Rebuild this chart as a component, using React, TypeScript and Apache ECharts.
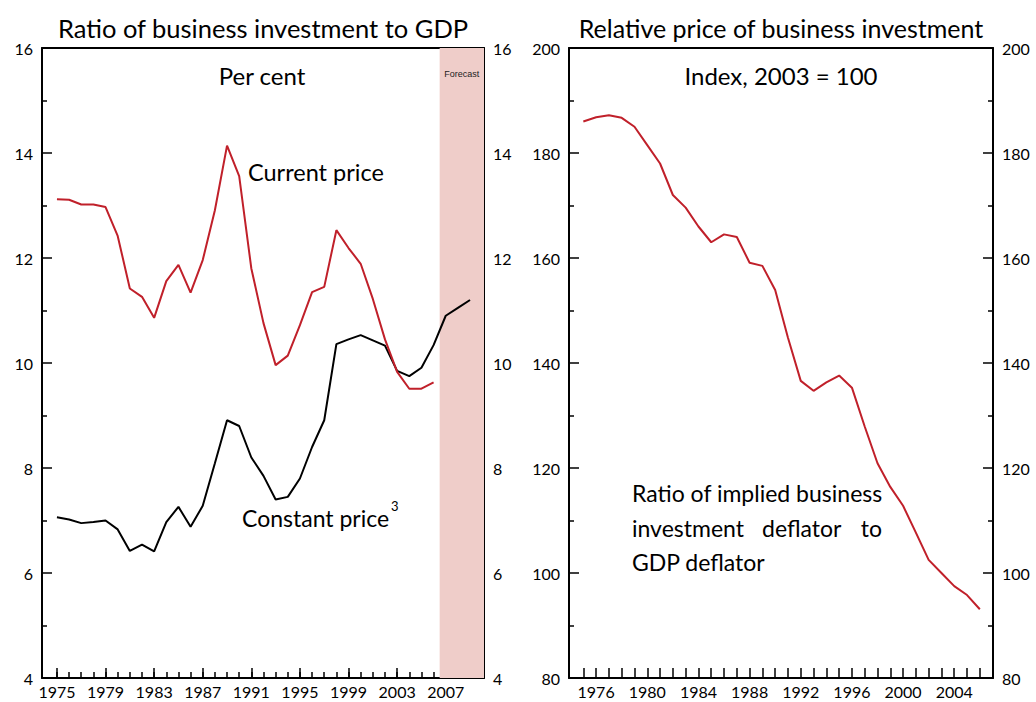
import React, { useEffect, useRef } from "react";
import * as echarts from "echarts";

// ---- Data ----
const currentYears = [1975,1976,1977,1978,1979,1980,1981,1982,1983,1984,1985,1986,1987,1988,1989,1990,1991,1992,1993,1994,1995,1996,1997,1998,1999,2000,2001,2002,2003,2004,2005,2006];
const currentPrice = [13.12,13.11,13.02,13.02,12.97,12.42,11.42,11.26,10.86,11.56,11.87,11.34,11.96,12.91,14.14,13.56,11.8,10.76,9.96,10.14,10.72,11.35,11.45,12.53,12.19,11.89,11.22,10.45,9.83,9.51,9.51,9.63];
const constantYears = [1975,1976,1977,1978,1979,1980,1981,1982,1983,1984,1985,1986,1987,1988,1989,1990,1991,1992,1993,1994,1995,1996,1997,1998,1999,2000,2001,2002,2003,2004,2005,2006,2007,2008,2009];
const constantPrice = [7.06,7.02,6.95,6.97,7.0,6.83,6.42,6.54,6.41,6.97,7.26,6.88,7.28,8.09,8.91,8.8,8.2,7.85,7.4,7.45,7.8,8.4,8.91,10.36,10.45,10.53,10.43,10.33,9.85,9.75,9.91,10.34,10.9,11.05,11.2];
const relYears = [1975,1976,1977,1978,1979,1980,1981,1982,1983,1984,1985,1986,1987,1988,1989,1990,1991,1992,1993,1994,1995,1996,1997,1998,1999,2000,2001,2002,2003,2004,2005,2006];
const relPrice = [186.0,186.8,187.2,186.7,185.0,181.5,178.0,172.0,169.6,166.0,163.0,164.5,164.0,159.1,158.5,153.9,144.8,136.6,134.7,136.3,137.6,135.3,127.9,120.9,116.4,112.8,107.7,102.5,100.0,97.5,95.8,93.1];
const forecastStart = 2006.5;

const leftLabelYears = [1975,1979,1983,1987,1991,1995,1999,2003,2007];
const leftTickYears = Array.from({ length: 35 }, (_, i) => 1975 + i);
const rightLabelYears = [1976,1980,1984,1988,1992,1996,2000,2004];
const rightTickYears = Array.from({ length: 32 }, (_, i) => 1975 + i);

const FONT = "Lato, 'Noto Sans', sans-serif";
const RED = "#c0202a";

export default function App() {
  const ref = useRef<HTMLDivElement>(null);
  useEffect(() => {
    if (!ref.current) return;
    const chart = echarts.init(ref.current, null, { renderer: "svg" });
    const lx = { min: 1973.77, max: 2010.15 };
    const rx = { min: 1973.88, max: 2007.03 };
    const axLine = { show: true, lineStyle: { color: "#000", width: 2 } };
    const lbl = { color: "#000", fontSize: 16, fontFamily: FONT };
    const yBase = (grid: number, pos: string, min: number, max: number, interval: number) => ({
      type: "value",
      gridIndex: grid,
      position: pos,
      min,
      max,
      interval,
      axisLine: axLine,
      axisTick: { show: true, inside: true, length: 10, lineStyle: { color: "#000", width: 1.5 } },
      minorTick: { show: true, splitNumber: 2, length: 5, lineStyle: { color: "#000", width: 1.5 } },
      axisLabel: { ...lbl, margin: 9 },
      splitLine: { show: false },
    });
    const t = (x: number, y: number, text: string, size: number, align = "left") => ({
      type: "text",
      x,
      y,
      style: { text, fontSize: size, fontFamily: FONT, fill: "#000", align, verticalAlign: "middle" },
    });
    chart.setOption({
      animation: false,
      backgroundColor: "#fff",
      grid: [
        { left: 42, right: 552, top: 48, bottom: 24 },
        { left: 569, right: 43, top: 48, bottom: 24 },
      ],
      xAxis: [
        {
          type: "value", gridIndex: 0, position: "bottom", ...lx,
          axisLine: axLine,
          axisTick: { show: true, inside: true, length: 6, customValues: leftTickYears, lineStyle: { color: "#000", width: 1.5 } },
          axisLabel: { ...lbl, margin: 5, customValues: leftLabelYears, formatter: (v: number) => String(v) },
          splitLine: { show: false },
        },
        {
          type: "value", gridIndex: 0, position: "bottom", ...lx,
          axisLine: { show: false },
          axisTick: { show: true, inside: true, length: 10, customValues: leftLabelYears, lineStyle: { color: "#000", width: 1.5 } },
          axisLabel: { show: false },
          splitLine: { show: false },
        },
        {
          type: "value", gridIndex: 0, position: "top", ...lx,
          axisLine: axLine, axisTick: { show: false }, axisLabel: { show: false }, splitLine: { show: false },
        },
        {
          type: "value", gridIndex: 1, position: "bottom", ...rx,
          axisLine: axLine,
          axisTick: { show: true, inside: true, length: 10, customValues: rightTickYears, lineStyle: { color: "#000", width: 1.5 } },
          axisLabel: { ...lbl, margin: 5, customValues: rightLabelYears, formatter: (v: number) => String(v) },
          splitLine: { show: false },
        },
        {
          type: "value", gridIndex: 1, position: "top", ...rx,
          axisLine: axLine, axisTick: { show: false }, axisLabel: { show: false }, splitLine: { show: false },
        },
      ],
      yAxis: [
        yBase(0, "left", 4, 16, 2),
        yBase(0, "right", 4, 16, 2),
        yBase(1, "left", 80, 200, 20),
        yBase(1, "right", 80, 200, 20),
      ],
      series: [
        {
          name: "Constant price",
          type: "line",
          xAxisIndex: 0,
          yAxisIndex: 0,
          symbol: "none",
          lineStyle: { color: "#000", width: 2 },
          data: constantYears.map((y, i) => [y, constantPrice[i]]),
          markArea: {
            silent: true,
            itemStyle: { color: "#efcdc9" },
            label: {
              show: true,
              position: "insideTop",
              distance: 21,
              formatter: "Forecast",
              fontSize: 9,
              color: "#222",
              fontFamily: "'Liberation Sans', Arial, sans-serif",
            },
            data: [[{ xAxis: forecastStart }, { xAxis: lx.max }]],
          },
          z: 3,
        },
        {
          name: "Current price",
          type: "line",
          xAxisIndex: 0,
          yAxisIndex: 0,
          symbol: "none",
          lineStyle: { color: RED, width: 2 },
          data: currentYears.map((y, i) => [y, currentPrice[i]]),
          z: 3,
        },
        {
          name: "Relative price",
          type: "line",
          xAxisIndex: 3,
          yAxisIndex: 2,
          symbol: "none",
          lineStyle: { color: RED, width: 2 },
          data: relYears.map((y, i) => [y, relPrice[i]]),
          z: 3,
        },
      ],
      graphic: [
        t(263, 28, "Ratio of business investment to GDP", 25.5, "center"),
        t(781, 28, "Relative price of business investment", 25, "center"),
        t(262, 75, "Per cent", 24, "center"),
        t(781, 75, "Index, 2003 = 100", 24, "center"),
        t(248, 172, "Current price", 23.5, "left"),
        t(242, 518, "Constant price", 23, "left"),
        t(391, 506, "3", 13, "left"),
        t(632, 493, "Ratio of implied business", 23, "left"),
        t(632, 528, "investment", 23, "left"),
        t(762, 528, "deflator", 23, "left"),
        t(882, 528, "to", 23, "right"),
        t(632, 562, "GDP deflator", 23, "left"),
      ],
    });
    return () => chart.dispose();
  }, []);
  return <div ref={ref} style={{ position: "fixed", left: 0, top: 0, width: 1036, height: 702 }} />;
}
